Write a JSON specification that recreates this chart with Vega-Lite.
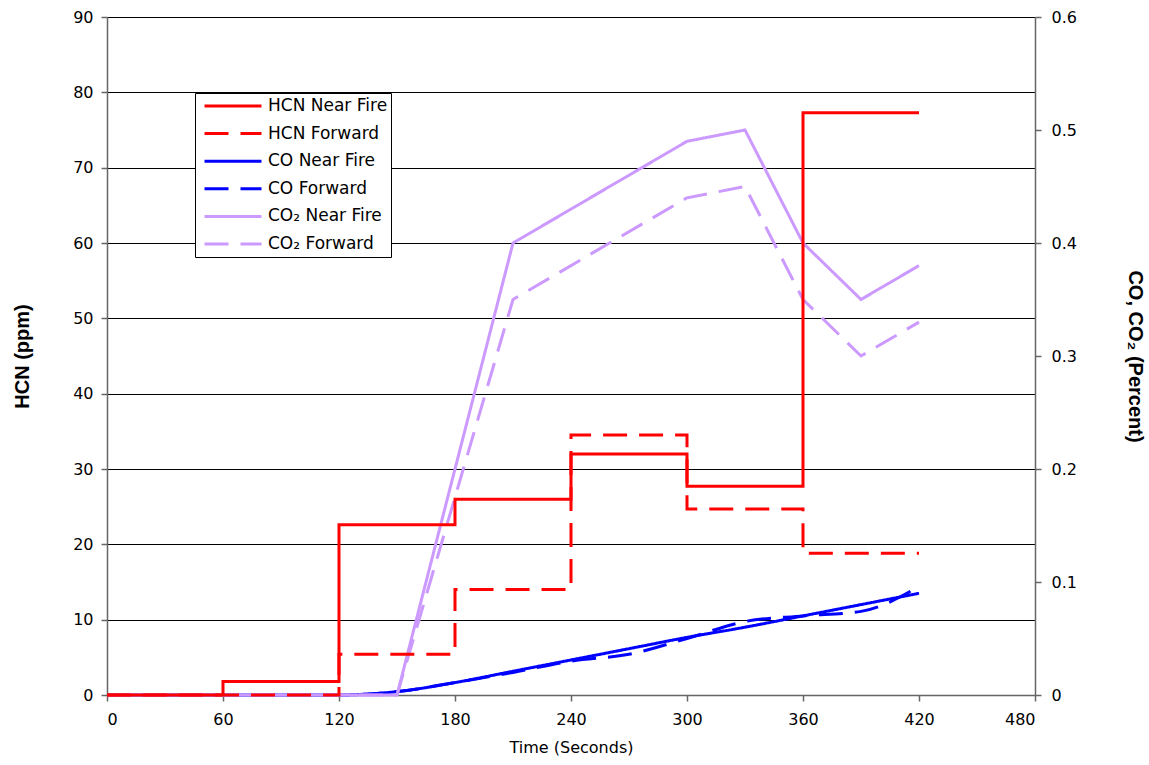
{
  "$schema": "https://vega.github.io/schema/vega-lite/v6.json",
  "width": 928,
  "height": 678,
  "autosize": {"type": "none"},
  "padding": {"left": 107, "top": 17, "right": 114, "bottom": 70},
  "background": "white",
  "config": {
    "view": {"stroke": null},
    "font": "DejaVu Sans",
    "axis": {
      "labelFont": "DejaVu Sans", "labelFontSize": 16, "labelColor": "black",
      "titleFont": "Liberation Sans", "titleColor": "black",
      "domainColor": "#666", "tickColor": "#666", "tickSize": 6, "domainWidth": 1.5, "tickWidth": 1.5
    },
    "legend": {
      "labelFont": "DejaVu Sans", "labelFontSize": 17, "labelColor": "black",
      "symbolType": "stroke", "symbolSize": 3249, "symbolStrokeWidth": 3,
      "strokeColor": "black", "fillColor": "white", "padding": 3, "labelOffset": 5, "cornerRadius": 0,
      "clipHeight": 20, "rowPadding": 7.6, "symbolOffset": 5
    }
  },
  "data": {
    "values": [
      {"time": 0, "value": 0, "series": "HCN Near Fire", "group": "HCN"},
      {"time": 60, "value": 1.8, "series": "HCN Near Fire", "group": "HCN"},
      {"time": 120, "value": 22.6, "series": "HCN Near Fire", "group": "HCN"},
      {"time": 180, "value": 26, "series": "HCN Near Fire", "group": "HCN"},
      {"time": 240, "value": 32, "series": "HCN Near Fire", "group": "HCN"},
      {"time": 300, "value": 27.7, "series": "HCN Near Fire", "group": "HCN"},
      {"time": 360, "value": 77.3, "series": "HCN Near Fire", "group": "HCN"},
      {"time": 420, "value": 77.3, "series": "HCN Near Fire", "group": "HCN"},
      {"time": 0, "value": 0, "series": "HCN Forward", "group": "HCN"},
      {"time": 120, "value": 5.4, "series": "HCN Forward", "group": "HCN"},
      {"time": 180, "value": 14, "series": "HCN Forward", "group": "HCN"},
      {"time": 240, "value": 34.5, "series": "HCN Forward", "group": "HCN"},
      {"time": 300, "value": 24.7, "series": "HCN Forward", "group": "HCN"},
      {"time": 360, "value": 18.8, "series": "HCN Forward", "group": "HCN"},
      {"time": 420, "value": 18.8, "series": "HCN Forward", "group": "HCN"},
      {"time": 0, "value": 0, "series": "CO Near Fire", "group": "CO"},
      {"time": 120, "value": 0, "series": "CO Near Fire", "group": "CO"},
      {"time": 150, "value": 0.003, "series": "CO Near Fire", "group": "CO"},
      {"time": 180, "value": 0.011, "series": "CO Near Fire", "group": "CO"},
      {"time": 210, "value": 0.021, "series": "CO Near Fire", "group": "CO"},
      {"time": 240, "value": 0.031, "series": "CO Near Fire", "group": "CO"},
      {"time": 270, "value": 0.041, "series": "CO Near Fire", "group": "CO"},
      {"time": 300, "value": 0.051, "series": "CO Near Fire", "group": "CO"},
      {"time": 330, "value": 0.060, "series": "CO Near Fire", "group": "CO"},
      {"time": 360, "value": 0.070, "series": "CO Near Fire", "group": "CO"},
      {"time": 390, "value": 0.080, "series": "CO Near Fire", "group": "CO"},
      {"time": 420, "value": 0.090, "series": "CO Near Fire", "group": "CO"},
      {"time": 0, "value": 0, "series": "CO Forward", "group": "CO"},
      {"time": 120, "value": 0, "series": "CO Forward", "group": "CO"},
      {"time": 150, "value": 0.003, "series": "CO Forward", "group": "CO"},
      {"time": 180, "value": 0.011, "series": "CO Forward", "group": "CO"},
      {"time": 210, "value": 0.020, "series": "CO Forward", "group": "CO"},
      {"time": 240, "value": 0.030, "series": "CO Forward", "group": "CO"},
      {"time": 270, "value": 0.036, "series": "CO Forward", "group": "CO"},
      {"time": 300, "value": 0.050, "series": "CO Forward", "group": "CO"},
      {"time": 330, "value": 0.065, "series": "CO Forward", "group": "CO"},
      {"time": 360, "value": 0.070, "series": "CO Forward", "group": "CO"},
      {"time": 390, "value": 0.074, "series": "CO Forward", "group": "CO"},
      {"time": 420, "value": 0.096, "series": "CO Forward", "group": "CO"},
      {"time": 0, "value": 0, "series": "CO₂ Near Fire", "group": "CO2"},
      {"time": 150, "value": 0, "series": "CO₂ Near Fire", "group": "CO2"},
      {"time": 210, "value": 0.40, "series": "CO₂ Near Fire", "group": "CO2"},
      {"time": 300, "value": 0.49, "series": "CO₂ Near Fire", "group": "CO2"},
      {"time": 330, "value": 0.50, "series": "CO₂ Near Fire", "group": "CO2"},
      {"time": 360, "value": 0.40, "series": "CO₂ Near Fire", "group": "CO2"},
      {"time": 390, "value": 0.35, "series": "CO₂ Near Fire", "group": "CO2"},
      {"time": 420, "value": 0.38, "series": "CO₂ Near Fire", "group": "CO2"},
      {"time": 0, "value": 0, "series": "CO₂ Forward", "group": "CO2"},
      {"time": 150, "value": 0, "series": "CO₂ Forward", "group": "CO2"},
      {"time": 210, "value": 0.35, "series": "CO₂ Forward", "group": "CO2"},
      {"time": 300, "value": 0.44, "series": "CO₂ Forward", "group": "CO2"},
      {"time": 330, "value": 0.45, "series": "CO₂ Forward", "group": "CO2"},
      {"time": 360, "value": 0.35, "series": "CO₂ Forward", "group": "CO2"},
      {"time": 390, "value": 0.30, "series": "CO₂ Forward", "group": "CO2"},
      {"time": 420, "value": 0.33, "series": "CO₂ Forward", "group": "CO2"}
    ]
  },
  "encoding": {
    "x": {
      "field": "time", "type": "quantitative",
      "scale": {"domain": [0, 480]},
      "axis": {
        "values": [0, 60, 120, 180, 240, 300, 360, 420, 480],
        "title": "Time (Seconds)", "titleFont": "DejaVu Sans", "titleFontWeight": "normal", "titleFontSize": 16,
        "grid": false, "labelPadding": 10, "titlePadding": 12
      }
    },
    "color": {
      "field": "series", "type": "nominal",
      "scale": {
        "domain": ["HCN Near Fire", "HCN Forward", "CO Near Fire", "CO Forward", "CO₂ Near Fire", "CO₂ Forward"],
        "range": ["#FF0000", "#FF0000", "#0000FF", "#0000FF", "#CC99FF", "#CC99FF"]
      },
      "legend": {"title": null, "orient": "none", "legendX": 88, "legendY": 76}
    },
    "strokeDash": {
      "field": "series", "type": "nominal",
      "scale": {
        "domain": ["HCN Near Fire", "HCN Forward", "CO Near Fire", "CO Forward", "CO₂ Near Fire", "CO₂ Forward"],
        "range": [[1, 0], [24, 12], [1, 0], [24, 12], [1, 0], [24, 12]]
      },
      "legend": {"title": null, "orient": "none", "legendX": 88, "legendY": 76}
    }
  },
  "layer": [
    {
      "encoding": {
        "y": {
          "field": "value", "type": "quantitative",
          "scale": {"domain": [0, 0.6]},
          "axis": {
            "orient": "right", "values": [0, 0.1, 0.2, 0.3, 0.4, 0.5, 0.6], "format": "~g",
            "grid": false, "title": "CO, CO₂ (Percent)", "titleFontWeight": "bold", "titleFontSize": 20,
            "labelPadding": 10, "titlePadding": 48
          }
        }
      },
      "layer": [
        {
          "transform": [{"filter": "datum.group == 'CO'"}],
          "mark": {"type": "line", "strokeWidth": 3, "interpolate": "monotone"}
        },
        {
          "transform": [{"filter": "datum.group == 'CO2'"}],
          "mark": {"type": "line", "strokeWidth": 3}
        }
      ]
    },
    {
      "transform": [{"filter": "datum.group == 'HCN'"}],
      "mark": {"type": "line", "strokeWidth": 3, "interpolate": "step-after"},
      "encoding": {
        "y": {
          "field": "value", "type": "quantitative",
          "scale": {"domain": [0, 90]},
          "axis": {
            "orient": "left", "values": [0, 10, 20, 30, 40, 50, 60, 70, 80, 90],
            "grid": true, "gridColor": "black", "gridWidth": 1, "gridOpacity": 1,
            "title": "HCN (ppm)", "titleFontWeight": "bold", "titleFontSize": 20,
            "labelPadding": 8, "titlePadding": 40
          }
        }
      }
    }
  ],
  "resolve": {"scale": {"y": "independent"}}
}
